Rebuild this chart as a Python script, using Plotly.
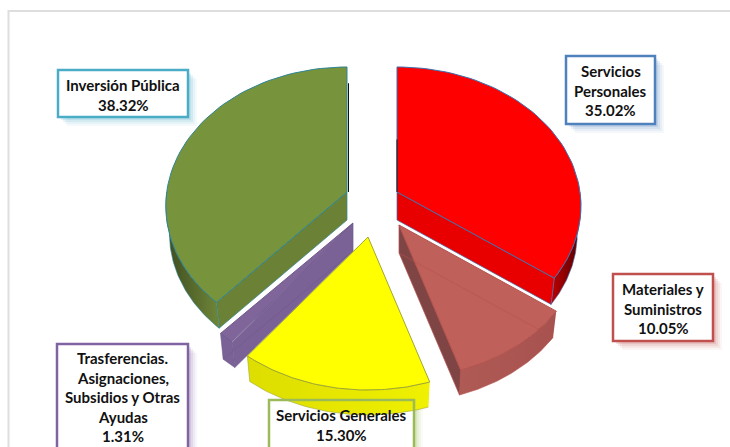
import numpy as np
import plotly.graph_objects as go

# ---- data
categories = ["Servicios Personales", "Materiales y Suministros", "Servicios Generales",
              "Trasferencias. Asignaciones, Subsidios y Otras Ayudas", "Inversión Pública"]
shares = [35.02, 10.05, 15.30, 1.31, 38.32]
label_lines = [["Servicios", "Personales", "35.02%"],
               ["Materiales y", "Suministros", "10.05%"],
               ["Servicios Generales", "15.30%"],
               ["Trasferencias.", "Asignaciones,", "Subsidios y Otras", "Ayudas", "1.31%"],
               ["Inversión Pública", "38.32%"]]

# ---- styles / layout
top_colors = ["#FF0000", "#C0605A", "#FFFF00", "#80659A", "#77933C"]
edge_colors = ["#3F6FAF", "#B5524E", "#A0A830", "#6F5A8C", "#2F8595"]
cut_colors = ["#E80000", "#7F4544", "#E8E800", "#7A6196", "#6B8136"]
wall_grad = [("#C00000", "#500000"), ("#B05A55", "#A85250"), ("#DDDD00", "#F0F000"),
             ("#7A6196", "#7A6196"), ("#3E4C20", "#6F8638")]
box_colors = ["#4F81BD", "#C0504D", "#9BBB59", "#8064A2", "#4BACC6"]
apex_x = [397, 399, 368, 353, 347]
apex_y = [192, 225, 237, 223, 192]
rx_scale = [1.0, 1.0, 1.0, 1.0, 0.985]
boxes = [(566, 56, 655, 124), (613, 274, 713, 341), (269, 400, 414, 450),
         (57, 344, 188, 450), (58, 70, 188, 117)]
text_y0 = [71, 289, 415, 358, 85]
line_h = 19.6
RX, RY, K, DEPTH, BOTTOM_SCALE = 183.0, 137.6, 0.1007, 28.0, 0.98
draw_order = [4, 0, 3, 1, 2]
# cut face turned towards the viewer: 0 = start edge, 1 = end edge, per slice
cut_side = [1, 1, None, 0, 0]
# edge seen through the translucent slices: 0 = start edge, 1 = end edge
hidden_side = [None, 0, None, 1, None]


def project(i, deg):
    a = np.radians(deg)
    X, Y = np.sin(a), -np.cos(a)
    d = 1 - K * Y
    return rx_scale[i] * RX * X / d, RY * Y / d


def rim(i, a0, a1, bottom=False):
    t = np.linspace(a0, a1, 60)
    x, y = project(i, t)
    s = BOTTOM_SCALE if bottom else 1.0
    return apex_x[i] + s * x, apex_y[i] + s * y + (DEPTH if bottom else 0)


def poly(x, y, fill, line=None, width=1, **kw):
    return go.Scatter(x=list(x), y=list(y), mode="lines", fill="toself", fillcolor=fill,
                      line=dict(color=line or "rgba(0,0,0,0)", width=width),
                      hoverinfo="skip", showlegend=False, **kw)


edges = np.concatenate([[0], np.cumsum(shares)]) * 3.6
fig = go.Figure()

for i in draw_order:
    a0, a1 = edges[i], edges[i + 1]
    ax, ay = apex_x[i], apex_y[i]

    # outer wall: lower part of the rim only
    w0, w1 = max(a0, 90), min(a1, 270)
    if w0 < w1:
        xt, yt = rim(i, w0, w1)
        xb, yb = rim(i, w0, w1, bottom=True)
        px = np.concatenate([xt, xb[::-1]])
        py = np.concatenate([yt, yb[::-1]])
        fig.add_trace(go.Scatter(x=px, y=py, mode="lines", fill="toself",
                                 fillgradient=dict(type="horizontal",
                                                   colorscale=[[0, wall_grad[i][0]], [1, wall_grad[i][1]]]),
                                 line=dict(color=edge_colors[i], width=0.6),
                                 hoverinfo="skip", showlegend=False))

    # cut face
    if cut_side[i] is not None:
        ang = a1 if cut_side[i] == 1 else a0
        ex, ey = project(i, ang)
        fx = [ax, ax + ex, ax + BOTTOM_SCALE * ex, ax, ax]
        fy = [ay, ay + ey, ay + BOTTOM_SCALE * ey + DEPTH, ay + DEPTH, ay]
        fig.add_trace(poly(fx, fy, cut_colors[i], edge_colors[i], 0.7))

    # top face
    xt, yt = rim(i, a0, a1)
    fig.add_trace(poly(np.concatenate([[ax], xt, [ax]]), np.concatenate([[ay], yt, [ay]]),
                       top_colors[i], edge_colors[i], 1))

    # edge seen through the translucent slices
    if hidden_side[i] is not None:
        ang = a1 if hidden_side[i] == 1 else a0
        ex, ey = project(i, ang)
        fig.add_trace(go.Scatter(x=[ax, ax + BOTTOM_SCALE * ex], y=[ay + DEPTH, ay + BOTTOM_SCALE * ey + DEPTH],
                                 mode="lines", line=dict(color=edge_colors[i], width=0.6),
                                 hoverinfo="skip", showlegend=False))

# dark slivers at the back of the 12 o'clock cut
for i, dx, frac in [(4, 1.5, 0.87), (0, 0, 0.42)]:
    fig.add_trace(go.Scatter(x=[apex_x[i] + dx] * 2, y=[apex_y[i], apex_y[i] - 125 * frac],
                             mode="lines", line=dict(color="#101010", width=1),
                             hoverinfo="skip", showlegend=False))

shapes = [dict(type="rect", xref="x", yref="y", x0=8.5, y0=11, x1=760, y1=480,
               line=dict(color="#DEDEDE", width=2), layer="below")]
annotations = []
for i, (x0, y0, x1, y1) in enumerate(boxes):
    for off, op in [(9, 0.06), (7, 0.08), (5, 0.12), (3, 0.16)]:
        shapes.append(dict(type="rect", xref="x", yref="y", x0=x0 + off, y0=y0 + off,
                           x1=x1 + off, y1=y1 + off, fillcolor=box_colors[i], opacity=op,
                           line=dict(width=0), layer="below"))
    # the Servicios Generales box lets the slice show through: its white goes under the marks
    if i == 2:
        shapes.append(dict(type="rect", xref="x", yref="y", x0=x0, y0=y0, x1=x1, y1=y1,
                           fillcolor="white", line=dict(width=0), layer="below"))
    shapes.append(dict(type="rect", xref="x", yref="y", x0=x0, y0=y0, x1=x1, y1=y1,
                       fillcolor="rgba(0,0,0,0)" if i == 2 else "white",
                       line=dict(color=box_colors[i], width=2.5)))
    for j, txt in enumerate(label_lines[i]):
        annotations.append(dict(x=(x0 + x1) / 2, y=text_y0[i] + j * line_h, xref="x", yref="y",
                                text="<b>%s</b>" % txt, showarrow=False, xanchor="center", yanchor="middle",
                                font=dict(family="Lato", size=15, color="#111111")))

fig.update_layout(width=730, height=447, margin=dict(l=0, r=0, t=0, b=0),
                  paper_bgcolor="white", plot_bgcolor="white", showlegend=False,
                  xaxis=dict(range=[0, 730], visible=False, fixedrange=True),
                  yaxis=dict(range=[447, 0], visible=False, fixedrange=True),
                  shapes=shapes, annotations=annotations)
fig.write_html("out.html", config=dict(displayModeBar=False),
               post_script="document.body.style.margin='0';document.body.style.overflow='hidden';")
